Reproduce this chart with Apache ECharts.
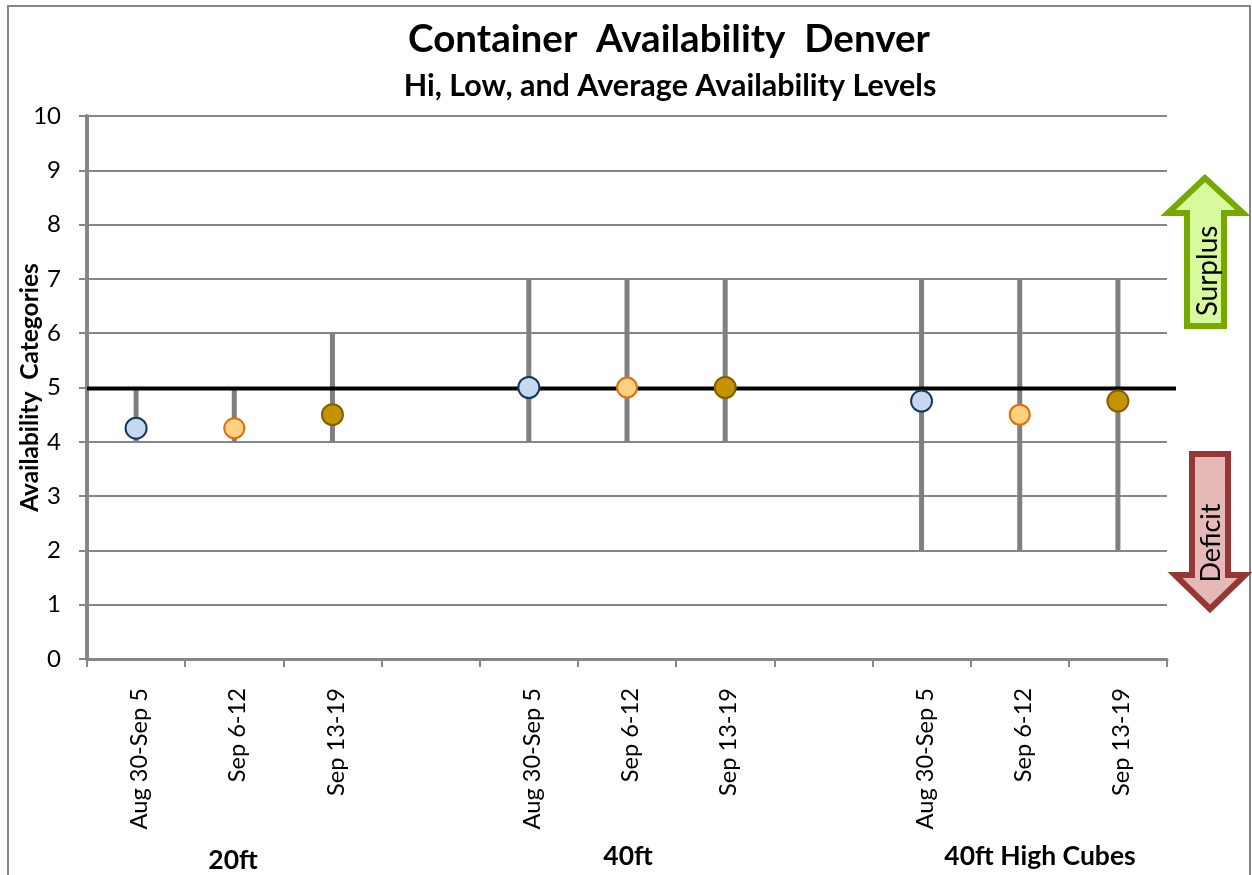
<!DOCTYPE html>
<html><head><meta charset="utf-8">
<style>html,body{margin:0;padding:0;background:#fff;overflow:hidden}#c{width:1252px;height:875px}</style>
<script src="https://cdn.jsdelivr.net/npm/echarts@6/dist/echarts.min.js"></script>
</head><body><div id="c"></div>
<script>
const categories = ['Aug 30-Sep 5','Sep 6-12','Sep 13-19','','Aug 30-Sep 5','Sep 6-12','Sep 13-19','','Aug 30-Sep 5','Sep 6-12','Sep 13-19'];
const highs = [5,5,6,null,7,7,7,null,7,7,7];
const lows  = [4,4,4,null,4,4,4,null,2,2,2];
const avgs  = [4.25,4.25,4.5,null,5,5,5,null,4.75,4.5,4.75];
const weekFill   = ['#c6d9f1','#fcd27f','#c69200'];
const weekBorder = ['#17375e','#e46c0a','#7f6000'];
const threshold = 4.98;
const FONT = 'Lato';
const GRID = {left:87, top:116, width:1080, height:543, outerBoundsMode:'none'};

const rangeData = categories.map((c,i)=>[i,lows[i],highs[i]]).filter(d=>d[1]!=null);
const avgData = categories.map((c,i)=>({
  value:[i,avgs[i]],
  symbolSize: i%4===1 ? 20 : 21,
  itemStyle:{color:weekFill[i%4],borderColor:weekBorder[i%4],borderWidth:2,opacity:1}
})).filter(d=>d.value[1]!=null);

const chart = echarts.init(document.getElementById('c'),null,{renderer:'canvas'});
chart.setOption({
  animation:false,
  backgroundColor:'#fff',
  title:[
    {text:'Container  Availability  Denver',left:664,top:15,textAlign:'center',
     textStyle:{fontFamily:FONT,fontSize:38.6,fontWeight:'bold',color:'#000'}},
    {text:'Hi, Low, and Average Availability Levels',left:665,top:66,textAlign:'center',
     textStyle:{fontFamily:FONT,fontSize:30.5,fontWeight:'bold',color:'#000'}}
  ],
  grid:GRID,
  xAxis:{type:'category',data:categories,
    axisLine:{lineStyle:{color:'#868686',width:3}},
    axisTick:{show:true,interval:0,length:8,lineStyle:{color:'#868686',width:2}},
    axisLabel:{interval:0,rotate:90,margin:29,verticalAlign:'top',lineHeight:7,fontFamily:FONT,fontSize:23.6,color:'#000'},
    splitLine:{show:false}},
  yAxis:{type:'value',min:0,max:10,interval:1,
    name:'Availability  Categories',nameLocation:'middle',nameGap:44,nameRotate:90,nameMoveOverlap:false,
    nameTextStyle:{fontFamily:FONT,fontSize:24.5,fontWeight:'bold',color:'#000'},
    axisLine:{show:true,lineStyle:{color:'#868686',width:4}},
    axisTick:{show:true,length:8,lineStyle:{color:'#868686',width:2}},
    axisLabel:{margin:26,fontFamily:FONT,fontSize:24,color:'#000'},
    splitLine:{show:true,lineStyle:{color:'#868686',width:2}}},
  series:[
    {type:'custom',z:2,clip:false,data:rangeData,encode:{x:0,y:[1,2]},
     renderItem(p,api){
       const a=api.coord([api.value(0),api.value(1)]),b=api.coord([api.value(0),api.value(2)]);
       return {type:'line',shape:{x1:a[0],y1:a[1],x2:b[0],y2:b[1]},style:{stroke:'#7f7f7f',lineWidth:5}};
     }},
    {type:'custom',z:3,clip:false,data:[[0,threshold]],encode:{y:1},
     renderItem(p,api){
       const y=api.coord([0,api.value(1)])[1];
       return {type:'line',shape:{x1:p.coordSys.x,y1:y,x2:p.coordSys.x+p.coordSys.width+9,y2:y},style:{stroke:'#000',lineWidth:4}};
     }},
    {type:'scatter',z:4,symbol:'circle',data:avgData}
  ],
  graphic:[
    {type:'rect',z:0,shape:{x:8,y:6,width:1242,height:900},style:{fill:'none',stroke:'#868686',lineWidth:2}},
    {type:'polygon',z:10,shape:{points:[[1205,178],[1168,213],[1187,213],[1187,326],[1224,326],[1224,213],[1243,213]]},
     style:{fill:'#d7fb9c',stroke:'#76a800',lineWidth:6,lineJoin:'miter',miterLimit:10}},
    {type:'text',z:11,x:1208,y:271,rotation:Math.PI/2,
     style:{text:'Surplus',fontFamily:FONT,fontSize:28,fill:'#000',align:'center',verticalAlign:'middle'}},
    {type:'polygon',z:10,shape:{points:[[1192,454],[1228,454],[1228,575],[1245,575],[1210,609],[1175,575],[1192,575]]},
     style:{fill:'#e6b9b8',stroke:'#953735',lineWidth:6,lineJoin:'miter',miterLimit:10}},
    {type:'text',z:11,x:1211,y:543,rotation:Math.PI/2,
     style:{text:'Deficit',fontFamily:FONT,fontSize:27,fill:'#000',align:'center',verticalAlign:'middle'}},
    {type:'text',z:11,x:233,y:860,style:{text:'20ft',fontFamily:FONT,fontSize:26.5,fontWeight:'bold',fill:'#000',align:'center',verticalAlign:'middle'}},
    {type:'text',z:11,x:628,y:856,style:{text:'40ft',fontFamily:FONT,fontSize:26.5,fontWeight:'bold',fill:'#000',align:'center',verticalAlign:'middle'}},
    {type:'text',z:11,x:1040,y:856,style:{text:'40ft High Cubes',fontFamily:FONT,fontSize:26.5,fontWeight:'bold',fill:'#000',align:'center',verticalAlign:'middle'}}
  ]
});
</script></body></html>
